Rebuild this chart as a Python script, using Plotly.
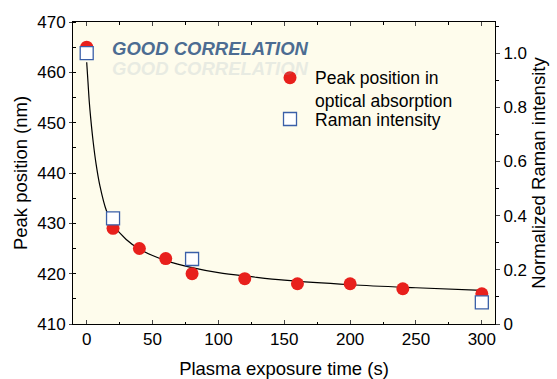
import plotly.graph_objects as go

# Data
time_peak = [0, 20, 40, 60, 80, 120, 160, 200, 240, 300]
peak_nm = [465, 429, 425, 423, 420, 419, 418, 418, 417, 416]

time_raman = [0, 20, 80, 300]
raman_int = [1.0, 0.39, 0.24, 0.08]

fit_time = [0, 1, 2, 3, 5, 7, 10, 15, 20, 30, 40, 50, 60, 80, 100, 125, 150, 200, 250, 300]
fit_nm = [462, 458, 454, 451, 446, 442, 437.5, 432.5, 429.8, 426.8, 424.9, 423.6, 422.6,
          421.2, 420.2, 419.4, 418.7, 417.8, 417.2, 416.7]

x_ticks = [0, 50, 100, 150, 200, 250, 300]
y_ticks = [410, 420, 430, 440, 450, 460, 470]
y2_ticks = [0, 0.2, 0.4, 0.6, 0.8, 1.0]
y2_labels = ["0", "0.2", "0.4", "0.6", "0.8", "1.0"]

FONT = "Liberation Sans, Arial, sans-serif"

fig = go.Figure()
fig.add_trace(go.Scatter(x=fit_time, y=fit_nm, mode="lines",
                         line=dict(color="black", width=1.2, shape="spline"),
                         showlegend=False, hoverinfo="skip"))
fig.add_trace(go.Scatter(x=time_peak, y=peak_nm, mode="markers",
                         name="Peak position in<br>optical absorption",
                         marker=dict(symbol="circle", size=13, color="#e8201c")))
fig.add_trace(go.Scatter(x=time_raman, y=raman_int, mode="markers", yaxis="y2",
                         name="Raman intensity", legend="legend2",
                         marker=dict(symbol="square", size=13, color="white",
                                     line=dict(color="#3a5fa8", width=1.3))))

axis_common = dict(showgrid=False, zeroline=False, showline=True, linecolor="black",
                   linewidth=1, automargin=False,
                   tickfont=dict(family=FONT, size=17, color="black"))

legend_common = dict(xanchor="left", yanchor="top", bgcolor="rgba(0,0,0,0)",
                     font=dict(family=FONT, size=17.5, color="black"), valign="top",
                     itemwidth=40)

fig.update_layout(
    width=557, height=379,
    margin=dict(l=73, r=62, t=22, b=55),
    paper_bgcolor="white", plot_bgcolor="#fefcec",
    font=dict(family=FONT, color="black"),
    xaxis=dict(range=[-10.4, 310], tickvals=x_ticks, ticks="inside", ticklen=4,
               mirror="ticks",
               minor=dict(dtick=25, tick0=0, ticks="inside", ticklen=2.5, tickcolor="black"),
               title=dict(text="Plasma exposure time (s)", font=dict(size=18.5, family=FONT),
                          standoff=19),
               **axis_common),
    yaxis=dict(range=[410, 470], tickvals=y_ticks, ticks="outside", ticklen=3,
               minor=dict(dtick=5, tick0=410, ticks="inside", ticklen=2.5, tickcolor="black"),
               title=dict(text="Peak position (nm)", font=dict(size=18.5, family=FONT),
                          standoff=4),
               **axis_common),
    yaxis2=dict(overlaying="y", side="right", range=[0, 1.115], tickvals=y2_ticks,
                ticktext=y2_labels, ticks="outside", ticklen=4,
                minor=dict(dtick=0.1, tick0=0, ticks="outside", ticklen=2.5, tickcolor="black"),
                title=dict(text="Normalized Raman intensity", font=dict(size=18.5, family=FONT),
                           standoff=6),
                **axis_common),
    legend=dict(x=0.455, y=0.875, **legend_common),
    legend2=dict(x=0.455, y=0.738, **legend_common),
)

# "GOOD CORRELATION" with faint reflection
fig.add_annotation(xref="paper", yref="paper", x=(110 - 73) / 422, y=(324 - 68) / 302,
                   xanchor="left", yanchor="middle", showarrow=False,
                   text="GOOD CORRELATION", opacity=0.18,
                   font=dict(family=FONT, size=18.5, color="#8aa0b8", weight="bold", style="italic"))
fig.add_annotation(xref="paper", yref="paper", x=(110 - 73) / 422, y=(324 - 48) / 302,
                   xanchor="left", yanchor="middle", showarrow=False,
                   text="GOOD CORRELATION",
                   font=dict(family=FONT, size=18.5, color="#4c6c92", weight="bold", style="italic"))

fig.write_html("out.html")
